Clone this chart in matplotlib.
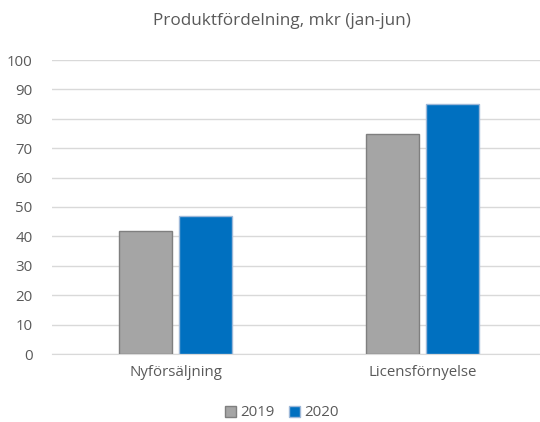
import matplotlib
matplotlib.use("Agg")
import matplotlib.pyplot as plt
import numpy as np

categories = ["Nyförsäljning", "Licensförnyelse"]
series_names = ["2019", "2020"]
values_2019 = [42, 75]
values_2020 = [47, 85]
yticks = [0, 10, 20, 30, 40, 50, 60, 70, 80, 90, 100]

plt.rcParams['font.family'] = ['Open Sans', 'DejaVu Sans']
txt = '#595959'

fig = plt.figure(figsize=(5.4, 4.22), dpi=100)
ax = fig.add_axes([52/540, 68/422, 494/540, 294/422])

x = np.arange(len(categories))
w = 0.215
off = 0.121
ax.bar(x - off, values_2019, w, color='#A5A5A5', edgecolor='#7F7F7F', linewidth=1.0, label=series_names[0], zorder=3)
ax.bar(x + off, values_2020, w, color='#0070C0', edgecolor='#9DB8D9', linewidth=1.0, label=series_names[1], zorder=3)

ax.set_xlim(-0.5, 1.5)
ax.set_ylim(0, 100)
ax.set_yticks(yticks)
ax.set_xticks(x)
ax.set_xticklabels(categories)
ax.grid(axis='y', color='#D9D9D9', linewidth=1.0, zorder=0)
for s in ['top', 'right', 'left']:
    ax.spines[s].set_visible(False)
ax.spines['bottom'].set_color('#D9D9D9')
ax.tick_params(axis='both', length=0, colors=txt, labelsize=10.8)
ax.tick_params(axis='y', pad=14)
ax.tick_params(axis='x', pad=8)

fig.text(282/540, 1 - 21/422, "Produktfördelning, mkr (jan-jun)", ha='center', va='center', fontsize=12.3, color=txt)

leg = fig.legend(loc='center', bbox_to_anchor=(282/540, 1 - 413/422), ncol=2, frameon=False,
                 fontsize=10.8, handlelength=0.7, handleheight=0.7, handletextpad=0.3, columnspacing=1.0)
for t in leg.get_texts():
    t.set_color(txt)

fig.savefig("out.png", dpi=100)
